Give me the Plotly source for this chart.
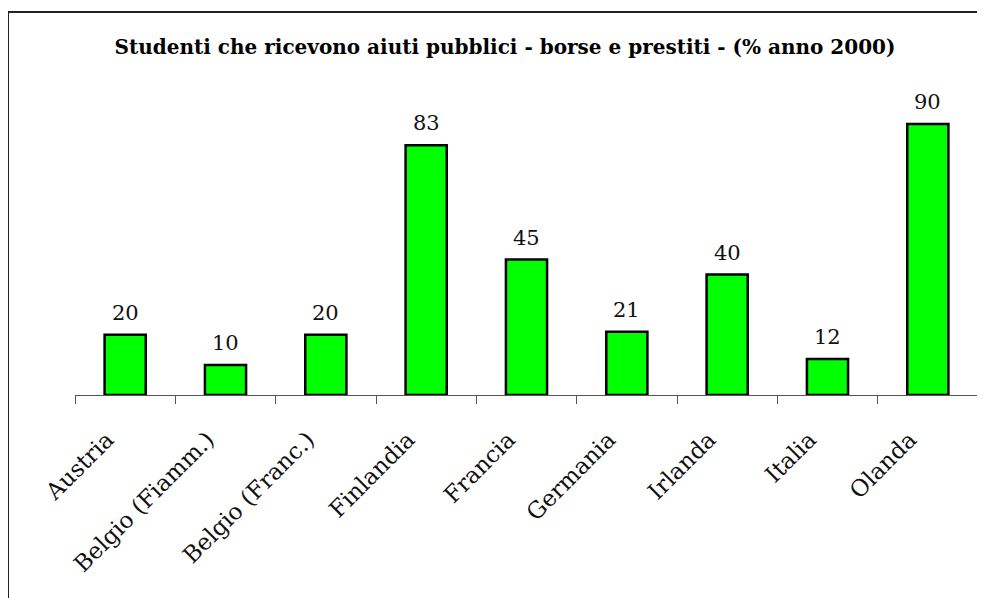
import plotly.graph_objects as go

categories = ["Austria", "Belgio (Fiamm.)", "Belgio (Franc.)", "Finlandia", "Francia",
              "Germania", "Irlanda", "Italia", "Olanda"]
values = [20, 10, 20, 83, 45, 21, 40, 12, 90]
title_text = "Studenti che ricevono aiuti pubblici - borse e prestiti - (% anno 2000)"

FONT = "DejaVu Serif"

fig = go.Figure()
fig.add_trace(go.Bar(
    x=categories, y=values, width=0.41,
    marker=dict(color="#00FF00", line=dict(color="#000000", width=2.5)),
    hoverinfo="x+y",
))

for c, v in zip(categories, values):
    fig.add_annotation(x=c, y=v, text=str(v), showarrow=False, yanchor="bottom",
                       yshift=8, font=dict(family=FONT, size=21, color="#111"))

# outer chart border (top and left visible)
fig.add_shape(type="line", xref="paper", yref="paper",
              x0=-0.0742, x1=1.2, y0=1.2724, y1=1.2724,
              line=dict(color="#222", width=2))
fig.add_shape(type="line", xref="paper", yref="paper",
              x0=-0.0742, x1=-0.0742, y0=1.2724, y1=-1.0,
              line=dict(color="#222", width=2))

fig.update_layout(
    width=985, height=598,
    margin=dict(l=67, r=15, t=86, b=211),
    paper_bgcolor="white", plot_bgcolor="white",
    showlegend=False,
    title=dict(text="<b>" + title_text + "</b>", x=0.5046, xanchor="center",
               y=1 - 39 / 598, yanchor="middle", xref="container", yref="container",
               font=dict(family=FONT, size=20, color="#000")),
    font=dict(family=FONT, color="#000"),
    xaxis=dict(
        range=[-0.5, 8.5], showline=True, linecolor="#555", linewidth=1,
        ticks="outside", tickson="boundaries", ticklen=8, tickcolor="#555",
        tickangle=-45, tickfont=dict(family=FONT, size=23, color="#111"),
        ticklabelstandoff=21, ticklabelshift=-18,
        showgrid=False, zeroline=False,
    ),
    yaxis=dict(range=[0, 100], visible=False, showgrid=False, zeroline=False),
)

fig.write_html("out.html")
